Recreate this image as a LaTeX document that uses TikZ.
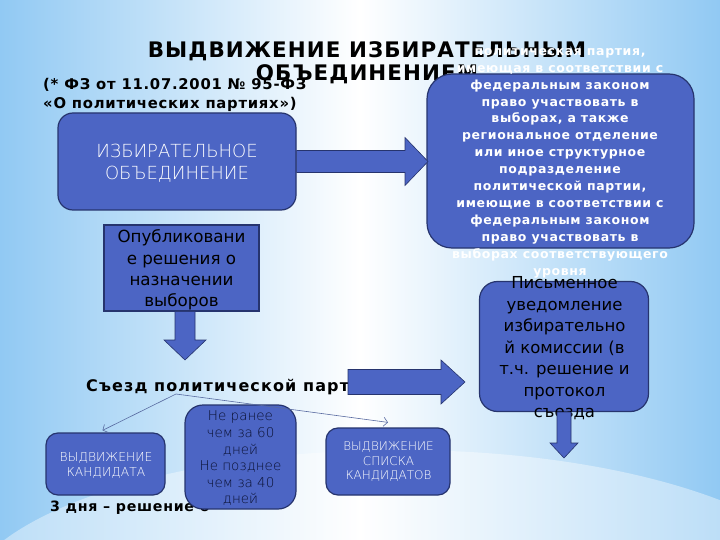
\documentclass[tikz,border=0pt]{standalone}
\usepackage{fontspec}
\setmainfont{DejaVu Sans}
\newfontfamily\widebold{DejaVu Sans}[LetterSpace=5]
\newfontfamily\widerbold{DejaVu Sans}[LetterSpace=7]
\newfontfamily\thinfont{DejaVuSans-ExtraLight}[Extension=.ttf]
\usetikzlibrary{arrows.meta,calc}

\definecolor{boxblue}{RGB}{76,101,196}
\definecolor{boxline}{RGB}{38,52,110}
\definecolor{bgside}{RGB}{145,201,243}
\definecolor{thinline}{RGB}{88,106,160}
\definecolor{navytxt}{RGB}{10,16,50}

\tikzset{
  blbox/.style={draw=boxline, line width=1.2pt, fill=boxblue, inner sep=0pt},
  bigarrow/.style={draw=boxline, line width=0.6pt, fill=boxblue},
  txt/.style={inner sep=0pt, align=center},
  thinarrow/.style={draw=thinline, line width=0.6pt, -{Straight Barb[length=4pt,width=9pt]}}
}

% block arrows: start, tip, shaft half, head half, head length
\newcommand{\rightblock}[5]{%
  \draw[bigarrow] let \p1=(#1), \p2=(#2) in
    (\x1,\y1+#3) -- (\x2-#5,\y1+#3) -- (\x2-#5,\y1+#4) -- (\x2,\y1)
    -- (\x2-#5,\y1-#4) -- (\x2-#5,\y1-#3) -- (\x1,\y1-#3) -- cycle;}
\newcommand{\downblock}[5]{%
  \draw[bigarrow] let \p1=(#1), \p2=(#2) in
    (\x1+#3,\y1) -- (\x1+#3,\y2+#5) -- (\x1+#4,\y2+#5) -- (\x1,\y2)
    -- (\x1-#4,\y2+#5) -- (\x1-#3,\y2+#5) -- (\x1-#3,\y1) -- cycle;}

\begin{document}
\begin{tikzpicture}[x=1pt,y=-1pt]
\useasboundingbox (0,0) rectangle (720,540);
% slide background
\shade[left color=bgside, right color=bgside, middle color=white] (0,0) rectangle (720,540);
\fill[white, opacity=0.4] (400,610) ellipse (440 and 160);

\node[txt, font=\widebold\bfseries\fontsize{21.4}{23}\selectfont] (title) at (367,62.5)
  {ВЫДВИЖЕНИЕ ИЗБИРАТЕЛЬНЫМ\\ОБЪЕДИНЕНИЕМ};
\node[txt, anchor=west, align=left, font=\widebold\bfseries\fontsize{14.8}{18.5}\selectfont] (law) at (43,95)
  {(* ФЗ от 11.07.2001 № 95-ФЗ\\«О политических партиях»)};

% who may nominate
\node[blbox, rounded corners=25, minimum width=267, minimum height=174] (party) at (560.5,161) {};
\node[txt, text=white, font=\widebold\bfseries\fontsize{12.5}{16.9}\selectfont] (partytxt) at (560,163)
  {политическая партия,\\имеющая в соответствии с\\федеральным законом\\право участвовать в\\выборах, а также\\региональное отделение\\или иное структурное\\подразделение\\политической партии,\\имеющие в соответствии с\\федеральным законом\\право участвовать в\\выборах соответствующего\\уровня};

\node[blbox, rounded corners=15, minimum width=238, minimum height=97] (org) at (177,161.5) {};
\node[txt, text=white, font=\thinfont\fontsize{18}{22}\selectfont] (orgtxt) at (177,163)
  {ИЗБИРАТЕЛЬНОЕ\\ОБЪЕДИНЕНИЕ};
\coordinate (orgtip) at (428,161.5);
\rightblock{org.east}{orgtip}{11pt}{24pt}{23pt}

% steps
\node[blbox, minimum width=155, minimum height=86] (pub) at (181.5,268) {};
\node[txt, font=\fontsize{16.7}{21.2}\selectfont] (pubtxt) at (181.5,270)
  {Опубликовани\\е решения о\\назначении\\выборов};
\coordinate (pubtip) at (185,360);
\downblock{$(pub.south)+(3.5,0)$}{pubtip}{10pt}{21pt}{20pt}

\node[txt, anchor=west, font=\widerbold\bfseries\fontsize{16}{18}\selectfont] (congress) at (86,387)
  {Съезд политической партии};

\node[blbox, rounded corners=18, minimum width=169, minimum height=130] (notice) at (564,346.5) {};
\node[txt, font=\fontsize{16.5}{21.5}\selectfont] (noticetxt) at (564.5,348.5)
  {Письменное\\уведомление\\избирательно\\й комиссии (в\\т.ч. решение и\\протокол\\съезда};
\coordinate (c2s) at (348,382);
\coordinate (c2e) at (465,382);
\rightblock{c2s}{c2e}{12.5pt}{22pt}{24pt}
\coordinate (noticetip) at (564.5,458);
\downblock{notice.south}{noticetip}{7pt}{14pt}{15pt}

% nominations
\node[blbox, rounded corners=12, minimum width=119, minimum height=62] (kand) at (105.5,464) {};
\node[txt, text=white, font=\thinfont\fontsize{12.3}{15}\selectfont] (kandtxt) at (106,465)
  {ВЫДВИЖЕНИЕ\\КАНДИДАТА};
\node[blbox, rounded corners=12, minimum width=124, minimum height=67] (list) at (388,461.5) {};
\node[txt, text=white, font=\thinfont\fontsize{12}{14.5}\selectfont] (listtxt) at (388.5,462)
  {ВЫДВИЖЕНИЕ\\СПИСКА\\КАНДИДАТОВ};

\node[txt, anchor=west, font=\widebold\bfseries\fontsize{14.2}{18}\selectfont] (days) at (50,508)
  {3 дня – решение о};
\node[blbox, rounded corners=18, minimum width=111, minimum height=104] (term) at (240.5,457) {};
\node[txt, text=navytxt, font=\thinfont\fontsize{13.5}{16.6}\selectfont] (termtxt) at (240.5,458.5)
  {Не ранее\\чем за 60\\дней\\Не позднее\\чем за 40\\дней};

\coordinate (split) at (176,394);
\draw[thinarrow] (split) -- ($(kand.north)+(-3,-2)$);
\draw[thinarrow] (split) -- ($(list.north)+(0,-5)$);
\end{tikzpicture}
\end{document}
